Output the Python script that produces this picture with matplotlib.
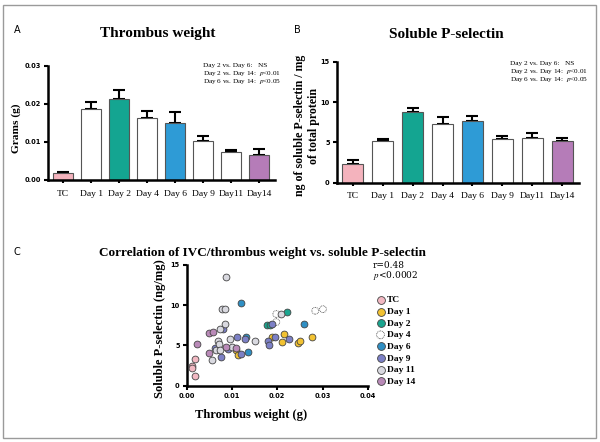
import matplotlib
matplotlib.use("Agg")
import matplotlib.pyplot as plt
from matplotlib.patches import Rectangle
import numpy as np

plt.rcParams["mathtext.fontset"] = "stix"

# ---------------- data ----------------
groups = ["TC", "Day 1", "Day 2", "Day 4", "Day 6", "Day 9", "Day11", "Day14"]
weight_mean = [0.00175, 0.0186, 0.0212, 0.0162, 0.0149, 0.0102, 0.0074, 0.0066]
weight_err = [0.0002, 0.0020, 0.0024, 0.0018, 0.0029, 0.0014, 0.0005, 0.0014]
psel_mean = [2.3, 5.14, 8.83, 7.25, 7.67, 5.39, 5.55, 5.14]
psel_err = [0.45, 0.33, 0.41, 0.90, 0.66, 0.37, 0.62, 0.41]
bar_colors = ["#f4b3bd", "white", "#14a591", "white", "#2e9bd6", "white", "white", "#b57cb8"]

legend_labels = ["TC", "Day 1", "Day 2", "Day 4", "Day 6", "Day 9", "Day 11", "Day 14"]
tc_x = [0.0013, 0.0013, 0.0019, 0.0019]
tc_y = [2.5, 2.2, 3.3, 1.2]
d1_x = [0.0110, 0.0113, 0.0188, 0.0210, 0.0216, 0.0245, 0.0250, 0.0276]
d1_y = [4.5, 3.8, 6.0, 5.4, 6.4, 5.3, 5.5, 6.1]
d2_x = [0.0177, 0.0221, 0.0184]
d2_y = [7.5, 9.1, 7.6]
d4_x = [0.0198, 0.0198, 0.0284, 0.0301]
d4_y = [7.9, 8.9, 9.3, 9.5]
d6_x = [0.0119, 0.0131, 0.0136, 0.0260]
d6_y = [10.3, 6.0, 4.2, 7.7]
d9_x = [0.0062, 0.0076, 0.0092, 0.0111, 0.0120, 0.0128, 0.0179, 0.0181, 0.0188, 0.0195, 0.0227, 0.0081]
d9_y = [4.7, 3.6, 4.6, 6.0, 4.0, 5.8, 5.6, 5.1, 7.7, 6.0, 5.8, 7.1]
d11_x = [0.0088, 0.0078, 0.0084, 0.0085, 0.0055, 0.0095, 0.0101, 0.0151, 0.0209, 0.0065, 0.0069, 0.0071, 0.0073, 0.0074]
d11_y = [13.5, 9.5, 9.5, 7.7, 3.2, 5.8, 4.8, 5.6, 8.9, 4.4, 5.6, 5.2, 4.5, 7.0]
d14_x = [0.0024, 0.0049, 0.0059, 0.0049, 0.0088, 0.0110]
d14_y = [5.2, 6.6, 6.7, 4.1, 4.8, 4.75]
scatter_colors = ["#f2b8c2", "#f2c232", "#1aa58f", "white", "#2f8fc4", "#7c80c6", "#d9d9e0", "#b98ab8"]

SERIF = "Liberation Serif"

fig = plt.figure(figsize=(6.0, 4.42), dpi=100)
fig.patches.append(Rectangle((0.005, 0.009), 0.988, 0.979, transform=fig.transFigure,
                             fill=False, edgecolor="#9a9a9a", linewidth=1.0))


def style_axes(ax):
    for s in ["top", "right"]:
        ax.spines[s].set_visible(False)
    for s in ["left", "bottom"]:
        ax.spines[s].set_linewidth(1.8)
    ax.tick_params(axis="both", width=1.5, length=3, pad=2)


def bar_panel(ax, vals, errs, ylim, yticks, yticklabels):
    x = np.arange(len(groups))
    ax.bar(x, vals, width=0.7, color=bar_colors, edgecolor="#555555", linewidth=0.8, zorder=2)
    ax.errorbar(x, vals, yerr=[np.zeros(len(errs)), errs], fmt="none", ecolor="black",
                elinewidth=1.5, capsize=4, capthick=1.5, zorder=1)
    ax.set_xlim(-0.54, 7.56)
    ax.set_ylim(*ylim)
    ax.set_yticks(yticks)
    ax.set_yticklabels(yticklabels, fontsize=4.8, fontweight="bold", family="DejaVu Sans")
    ax.set_xticks(x)
    ax.set_xticklabels(groups, fontsize=6.8, family=SERIF)
    style_axes(ax)
    ax.tick_params(axis="x", length=2, pad=5)


# ---------------- Panel A ----------------
axA = fig.add_axes([0.080, 0.593, 0.378, 0.258])
bar_panel(axA, weight_mean, weight_err, (0, 0.03), [0, 0.01, 0.02, 0.03],
          ["0.00", "0.01", "0.02", "0.03"])
axA.set_ylabel("Grams (g)", fontsize=8.2, fontweight="bold", family=SERIF)
axA.yaxis.set_label_coords(-0.118, 0.45)
fig.text(158 / 600, 1 - 34 / 442, "Thrombus weight", ha="center", va="center",
         fontsize=11, fontweight="bold", family=SERIF)
fig.text(14 / 600, 1 - 30 / 442, "A", ha="left", va="center", fontsize=7, family="DejaVu Sans")
for i, t in enumerate(["Day 2 vs. Day 6:   NS", "Day 2 vs. Day 14:  $\\it{p}$<0.01",
                       "Day 6 vs. Day 14:  $\\it{p}$<0.05"]):
    fig.text(203 / 600, 1 - (65 + 8 * i) / 442, t, ha="left", va="center", fontsize=5.2,
             family=SERIF)

# ---------------- Panel B ----------------
axB = fig.add_axes([0.561, 0.587, 0.404, 0.273])
bar_panel(axB, psel_mean, psel_err, (0, 15), [0, 5, 10, 15], ["0", "5", "10", "15"])
axB.set_ylabel("ng of soluble P-selectin / mg\nof total protein", fontsize=8.6,
               fontweight="bold", family=SERIF, linespacing=1.25)
axB.yaxis.set_label_coords(-0.068, 0.47)
fig.text(446 / 600, 1 - 34 / 442, "Soluble P-selectin", ha="center", va="center",
         fontsize=11, fontweight="bold", family=SERIF)
fig.text(294 / 600, 1 - 30 / 442, "B", ha="left", va="center", fontsize=7, family="DejaVu Sans")
for i, t in enumerate(["Day 2 vs. Day 6:   NS", "Day 2 vs. Day 14:  $\\it{p}$<0.01",
                       "Day 6 vs. Day 14:  $\\it{p}$<0.05"]):
    fig.text(510 / 600, 1 - (64 + 8 * i) / 442, t, ha="left", va="center", fontsize=5.2,
             family=SERIF)

# ---------------- Panel C ----------------
axC = fig.add_axes([0.311, 0.127, 0.302, 0.274])
xs = [tc_x, d1_x, d2_x, d4_x, d6_x, d9_x, d11_x, d14_x]
ys = [tc_y, d1_y, d2_y, d4_y, d6_y, d9_y, d11_y, d14_y]
handles = []
for xv, yv, c, lab in zip(xs, ys, scatter_colors, legend_labels):
    ls = (0, (1, 1)) if lab == "Day 4" else "solid"
    h = axC.scatter(xv, yv, s=24, color=c, edgecolors="#444444", linewidths=0.6,
                    linestyle=ls, zorder=3, label=lab)
    handles.append(h)
axC.set_xlim(0, 0.04)
axC.set_ylim(0, 15)
axC.set_xticks([0, 0.01, 0.02, 0.03, 0.04])
axC.set_xticklabels(["0.00", "0.01", "0.02", "0.03", "0.04"], fontsize=4.8,
                    fontweight="bold", family="DejaVu Sans")
axC.set_yticks([0, 5, 10, 15])
axC.set_yticklabels(["0", "5", "10", "15"], fontsize=4.8, fontweight="bold", family="DejaVu Sans")
style_axes(axC)
axC.set_xlabel("Thrombus weight (g)", fontsize=9, fontweight="bold", family=SERIF)
axC.xaxis.set_label_coords(0.358, -0.195)
axC.set_ylabel("Soluble P-selectin (ng/mg)", fontsize=9, fontweight="bold", family=SERIF)
axC.yaxis.set_label_coords(-0.112, 0.47)
fig.text(262 / 600, 1 - 253 / 442, "Correlation of IVC/thrombus weight vs. soluble P-selectin",
         ha="center", va="center", fontsize=9.5, fontweight="bold", family=SERIF)
fig.text(13 / 600, 1 - 252 / 442, "C", ha="left", va="center", fontsize=7, family="DejaVu Sans")
fig.text(373 / 600, 1 - 265 / 442, "r=0.48", ha="left", va="center", fontsize=6.5,
         family="DejaVu Serif")
fig.text(373 / 600, 1 - 275 / 442, "$\\it{p}$<0.0002", ha="left", va="center", fontsize=6.5,
         family="DejaVu Serif")
leg = fig.legend(handles=handles, loc="upper left", bbox_to_anchor=(372 / 600, 1 - 292 / 442),
                 frameon=False, prop={"family": SERIF, "weight": "bold", "size": 6.8},
                 handletextpad=0.2, labelspacing=0.32, borderaxespad=0, handlelength=1.0,
                 markerscale=1.15)

fig.savefig("out.png", dpi=100)
